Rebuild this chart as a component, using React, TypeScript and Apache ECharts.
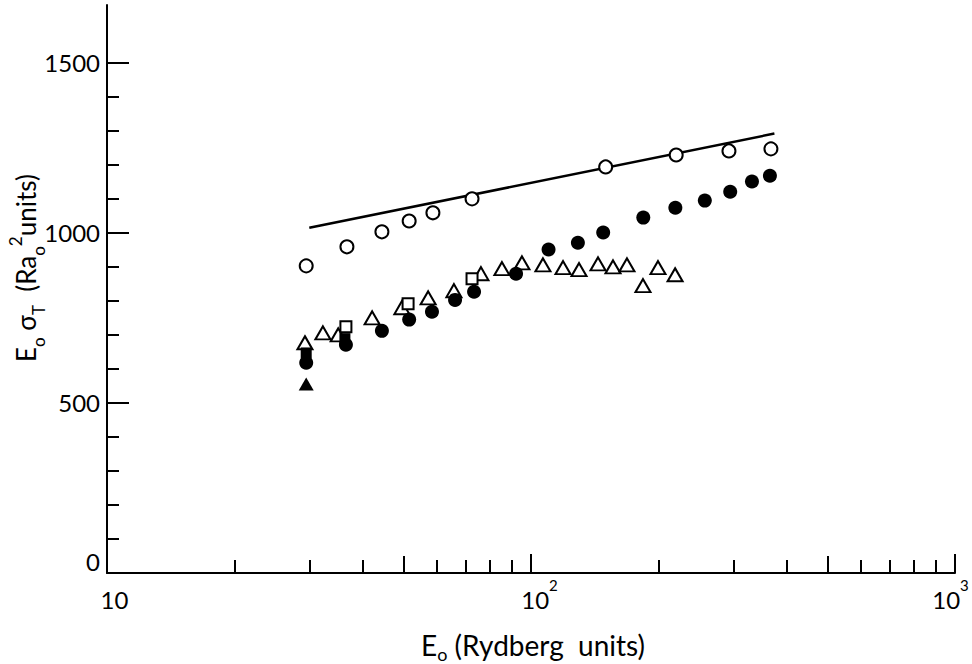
import React, { useEffect, useRef } from 'react';
import * as echarts from 'echarts';

// ---- data (E0 in Rydberg units, E0*sigma_T in R a0^2 units) ----
const openCircles: [number, number][] = [
  [29.5, 903], [36.8, 959], [44.5, 1003], [51.6, 1035], [58.7, 1059], [72.6, 1100],
  [150, 1194], [220, 1229], [293, 1241], [368, 1247],
];
const filledCircles: [number, number][] = [
  [29.5, 618], [36.6, 671], [44.5, 712], [51.6, 745], [58.4, 768], [66.2, 803], [73.4, 827],
  [92.2, 880], [110, 951], [129, 971], [148, 1001], [184, 1045], [219, 1074], [257, 1095],
  [295, 1121], [332, 1151], [366, 1168],
];
const openTriangles: [number, number][] = [
  [29.3, 677], [32.3, 706], [35.1, 700], [42.2, 750], [49.6, 780], [57.2, 809], [65.8, 830],
  [76.2, 880], [85.4, 895], [95.2, 912], [106.7, 906], [119, 898], [129.8, 892], [143.9, 909],
  [156.1, 900], [168.4, 906], [183.7, 845], [199.3, 898], [218.7, 877],
];
const openSquares: [number, number][] = [[36.6, 724], [51.3, 792], [72.6, 865]];
const filledSquares: [number, number][] = [[29.5, 647], [36.4, 689]];
const filledTriangles: [number, number][] = [[29.5, 556]];
const theoryLine: [number, number][] = [[30, 1015], [375, 1292]];

// ---- ticks ----
const yMajorTicks = [0, 500, 1000, 1500];
const yMinorTicks = [100, 200, 300, 400, 600, 700, 800, 900, 1100, 1200, 1300, 1400];
const xMinorTicks = [20, 30, 40, 60, 70, 80, 90, 200, 300, 400, 600, 700, 800, 900];
const xMidTicks = [50, 500];

const FONT = 'Lato, "Open Sans", sans-serif';
const BLACK = '#000';

export default function App() {
  const ref = useRef<HTMLDivElement>(null);
  useEffect(() => {
    const chart = echarts.init(ref.current!, null, { renderer: 'svg' });
    const tickLine = { color: BLACK, width: 2 };
    const hiddenValueX = (vals: number[], len: number) => ({
      type: 'value',
      min: 1,
      max: 3,
      position: 'bottom',
      offset: 0,
      axisLine: { show: false },
      axisLabel: { show: false },
      splitLine: { show: false },
      axisTick: {
        show: true,
        inside: true,
        length: len,
        lineStyle: tickLine,
        customValues: vals.map((v) => Math.log10(v)),
      },
    });
    const option: any = {
      animation: false,
      backgroundColor: '#fff',
      grid: { left: 107, right: 17, top: 5, bottom: 91, containLabel: false, outerBoundsMode: 'none' },
      xAxis: [
        {
          type: 'log',
          logBase: 10,
          min: 10,
          max: 1000,
          position: 'bottom',
          axisLine: { show: true, lineStyle: { color: BLACK, width: 2 } },
          axisTick: { show: true, inside: true, length: 19, lineStyle: tickLine },
          minorTick: { show: false },
          splitLine: { show: false },
          axisLabel: {
            margin: 4,
            color: BLACK,
            formatter: (v: number) => {
              if (Math.abs(v - 10) < 1e-6) return '{a|10}';
              if (Math.abs(v - 100) < 1e-6) return '{b|10}{p|2}';
              if (Math.abs(v - 1000) < 1e-6) return '{c|10}{q|3}';
              return '';
            },
            rich: {
              a: { fontFamily: FONT, fontSize: 24, color: BLACK, lineHeight: 34, verticalAlign: 'bottom', padding: [0, 0, 0, 15] },
              b: { fontFamily: FONT, fontSize: 24, color: BLACK, lineHeight: 34, verticalAlign: 'bottom', padding: [0, 0, 0, 20] },
              c: { fontFamily: FONT, fontSize: 24, color: BLACK, lineHeight: 34, verticalAlign: 'bottom' },
              p: { fontFamily: FONT, fontSize: 15, color: BLACK, verticalAlign: 'top', padding: [0, 3, 0, 0] },
              q: { fontFamily: FONT, fontSize: 15, color: BLACK, verticalAlign: 'top', padding: [0, 9, 0, 0] },
            },
          },
        },
        hiddenValueX(xMinorTicks, 13),
        hiddenValueX(xMidTicks, 17),
      ],
      yAxis: [
        {
          type: 'value',
          min: 0,
          max: 1670,
          position: 'left',
          axisLine: { show: true, lineStyle: { color: BLACK, width: 2 } },
          splitLine: { show: false },
          axisTick: { show: true, inside: true, length: 22, lineStyle: tickLine, customValues: yMajorTicks },
          axisLabel: {
            customValues: yMajorTicks,
            margin: 7,
            color: BLACK,
            formatter: (v: number) => (v === 0 ? '{z|0}' : '{n|' + v + '}'),
            rich: {
              n: { fontFamily: FONT, fontSize: 24, color: BLACK },
              z: { fontFamily: FONT, fontSize: 24, color: BLACK, padding: [0, 0, 24, 0] },
            },
          },
        },
        {
          type: 'value',
          min: 0,
          max: 1670,
          position: 'left',
          offset: 0,
          axisLine: { show: false },
          splitLine: { show: false },
          axisLabel: { show: false },
          axisTick: { show: true, inside: true, length: 12, lineStyle: tickLine, customValues: yMinorTicks },
        },
      ],
      graphic: [
        {
          type: 'text',
          x: 7,
          y: 268,
          rotation: Math.PI / 2,
          style: {
            text: '{t|E}{s|o}{t| σ}{s|T}{t|  (Ra}{s|o}{p|2}{t|units)}',
            align: 'center',
            verticalAlign: 'top',
            fill: BLACK,
            rich: {
              t: { fontFamily: FONT, fontSize: 26, lineHeight: 40, verticalAlign: 'top', padding: [6, 0, 0, 0], fill: BLACK },
              s: { fontFamily: FONT, fontSize: 17, verticalAlign: 'bottom', fill: BLACK },
              p: { fontFamily: FONT, fontSize: 17, verticalAlign: 'top', fill: BLACK },
            },
          },
        },
        {
          type: 'text',
          x: 533,
          y: 631,
          style: {
            text: '{t|E}{s|o}{t| (Rydberg  units)}',
            align: 'center',
            verticalAlign: 'top',
            fill: BLACK,
            rich: {
              t: { fontFamily: FONT, fontSize: 28, lineHeight: 32, verticalAlign: 'top', fill: BLACK },
              s: { fontFamily: FONT, fontSize: 18, verticalAlign: 'bottom', fill: BLACK },
            },
          },
        },
      ],
      series: [
        {
          type: 'line',
          data: theoryLine,
          showSymbol: false,
          symbol: 'none',
          lineStyle: { color: BLACK, width: 2.5 },
          z: 2,
        },
        {
          type: 'scatter',
          data: openTriangles,
          symbol: 'triangle',
          symbolSize: [15, 13],
          itemStyle: { color: '#fff', borderColor: BLACK, borderWidth: 2, opacity: 1 },
          z: 3,
        },
        {
          type: 'scatter',
          data: filledSquares,
          symbol: 'rect',
          symbolSize: 11,
          itemStyle: { color: BLACK, opacity: 1 },
          z: 3,
        },
        {
          type: 'scatter',
          data: openSquares,
          symbol: 'rect',
          symbolSize: 11,
          itemStyle: { color: '#fff', borderColor: BLACK, borderWidth: 2, opacity: 1 },
          z: 4,
        },
        {
          type: 'scatter',
          data: filledTriangles,
          symbol: 'triangle',
          symbolSize: [15, 13],
          itemStyle: { color: BLACK, opacity: 1 },
          z: 4,
        },
        {
          type: 'scatter',
          data: filledCircles,
          symbol: 'circle',
          symbolSize: 14,
          itemStyle: { color: BLACK, opacity: 1 },
          z: 5,
        },
        {
          type: 'scatter',
          data: openCircles,
          symbol: 'circle',
          symbolSize: 13,
          itemStyle: { color: '#fff', borderColor: BLACK, borderWidth: 2, opacity: 1 },
          z: 5,
        },
      ],
    };
    chart.setOption(option);
    return () => chart.dispose();
  }, []);
  return (
    <div
      ref={ref}
      style={{ position: 'fixed', left: 0, top: 0, width: 972, height: 664, background: '#fff' }}
    />
  );
}
